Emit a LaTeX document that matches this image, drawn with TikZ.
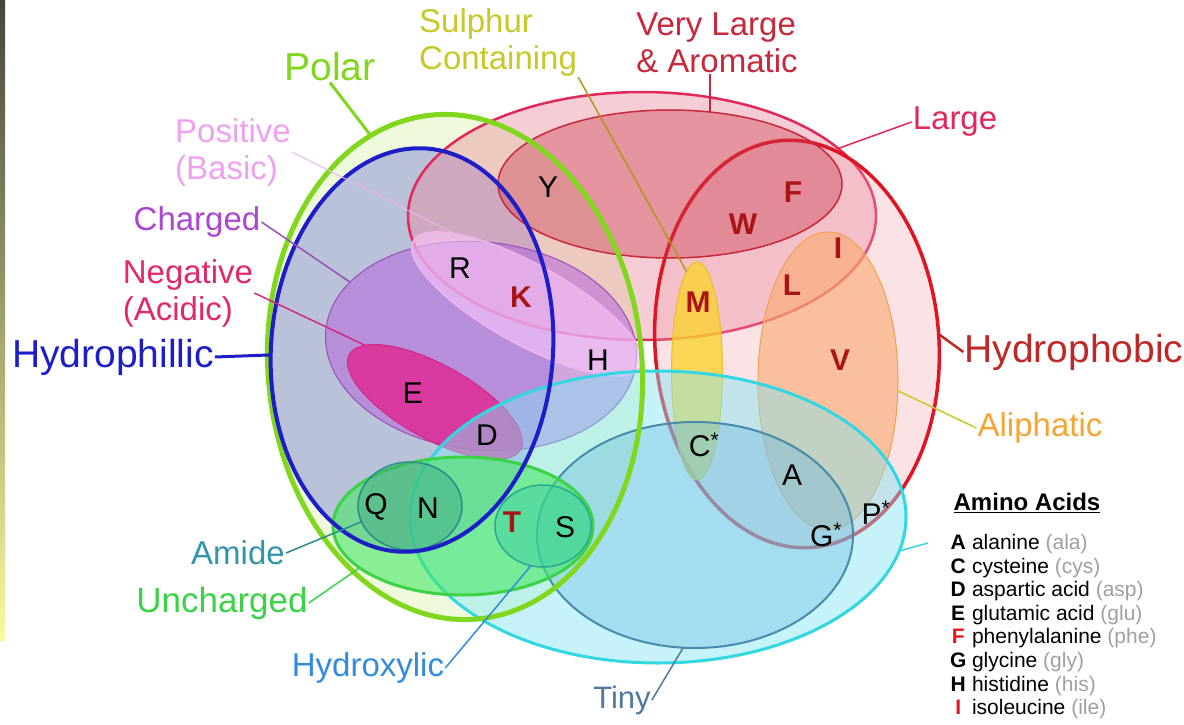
\documentclass[tikz,border=0pt]{standalone}
\usepackage{fontspec}
\setmainfont{Liberation Sans}
\usetikzlibrary{shapes.geometric}

\definecolor{polarc}{RGB}{128,215,30}
\definecolor{polarf}{RGB}{205,240,140}
\definecolor{philc}{RGB}{30,30,200}
\definecolor{philf}{RGB}{135,140,215}
\definecolor{largec}{RGB}{225,40,90}
\definecolor{largef}{RGB}{235,130,150}
\definecolor{phobc}{RGB}{225,20,35}
\definecolor{phobf}{RGB}{240,160,170}
\definecolor{phobt}{RGB}{190,40,40}
\definecolor{vlc}{RGB}{200,40,60}
\definecolor{vlf}{RGB}{200,60,80}
\definecolor{alic}{RGB}{240,160,80}
\definecolor{alif}{RGB}{250,170,110}
\definecolor{alit}{RGB}{245,165,50}
\definecolor{sulc}{RGB}{225,195,40}
\definecolor{sulf}{RGB}{250,210,40}
\definecolor{sult}{RGB}{200,200,40}
\definecolor{sull}{RGB}{180,150,30}
\definecolor{chgc}{RGB}{150,80,180}
\definecolor{chgf}{RGB}{180,100,220}
\definecolor{chgt}{RGB}{170,70,210}
\definecolor{posc}{RGB}{240,180,240}
\definecolor{posf}{RGB}{250,200,250}
\definecolor{post}{RGB}{240,160,240}
\definecolor{negc}{RGB}{210,40,130}
\definecolor{negf}{RGB}{230,30,140}
\definecolor{negt}{RGB}{225,40,110}
\definecolor{smallc}{RGB}{50,215,225}
\definecolor{smallf}{RGB}{130,230,245}
\definecolor{tinyc}{RGB}{70,140,170}
\definecolor{tinyf}{RGB}{100,180,220}
\definecolor{tinyt}{RGB}{80,120,160}
\definecolor{unchc}{RGB}{60,210,70}
\definecolor{unchf}{RGB}{70,230,100}
\definecolor{amidec}{RGB}{40,140,140}
\definecolor{amidef}{RGB}{50,150,130}
\definecolor{amidet}{RGB}{50,150,170}
\definecolor{hydc}{RGB}{40,170,140}
\definecolor{hydf}{RGB}{50,200,170}
\definecolor{hydt}{RGB}{50,140,220}
\definecolor{acidred}{RGB}{170,20,20}
\definecolor{leggray}{RGB}{160,160,160}
\definecolor{legred}{RGB}{230,20,30}

\tikzstyle{region} = [ellipse, inner sep=0pt, outer sep=0pt]
\tikzstyle{lbl} = [inner sep=1pt, align=left, font=\fontsize{33}{37}\selectfont]
\tikzstyle{biglbl} = [inner sep=1pt, font=\fontsize{39}{44}\selectfont]
\tikzstyle{conn} = [line width=1.5pt]
\tikzstyle{acid} = [inner sep=0pt, font=\fontsize{30}{30}\selectfont]
\tikzstyle{redacid} = [inner sep=0pt, text=acidred, font=\fontsize{30}{30}\selectfont\bfseries]

\begin{document}
\begin{tikzpicture}[x=1pt, y=-1pt]
    \useasboundingbox (0,0) rectangle (1184,725);
    \fill [white] (0,0) rectangle (1184,725);
    \shade [top color={rgb,255:red,70;green,70;blue,60}, bottom color={rgb,255:red,250;green,250;blue,160}] (0,0) rectangle (5,640);

    % sets
    \node (polar) [region, fill=polarf, fill opacity=0.3, minimum width=374pt, minimum height=506pt, rotate=5] at (455,367) {};
    \node (phil) [region, fill=philf, fill opacity=0.5, minimum width=282pt, minimum height=404pt, rotate=-4] at (412,350) {};
    \node (large) [region, draw=largec, line width=2.5pt, fill=largef, fill opacity=0.4, minimum width=468pt, minimum height=248pt] at (642,216) {};
    \node (phob) [region, draw=phobc, line width=3.5pt, fill=phobf, fill opacity=0.3, minimum width=284pt, minimum height=408pt, rotate=4] at (797,344) {};
    \node (vla) [region, draw=vlc, line width=1.5pt, fill=vlf, fill opacity=0.4, minimum width=344pt, minimum height=148pt] at (670,184) {};
    \node (ali) [region, draw=alic, line width=1pt, fill=alif, fill opacity=0.6, minimum width=140pt, minimum height=298pt] at (828,381) {};
    \node (chg) [region, draw=chgc, line width=1pt, fill=chgf, fill opacity=0.55, minimum width=312pt, minimum height=208pt, rotate=-6] at (481,346) {};
    \node (pos) [region, draw=posc, line width=1.5pt, fill=posf, fill opacity=0.6, minimum width=260pt, minimum height=80pt, rotate=-29] at (527,304) {};
    \node (neg) [region, draw=negc, line width=1pt, fill=negf, fill opacity=0.75, minimum width=196pt, minimum height=74pt, rotate=-29] at (435,402) {};
    \node (sulph) [region, draw=sulc, line width=1pt, fill=sulf, fill opacity=0.75, minimum width=51pt, minimum height=218pt] at (697,371) {};
    \node (small) [region, draw=smallc, line width=3pt, fill=smallf, fill opacity=0.45, minimum width=496pt, minimum height=292pt] at (658,517) {};
    \node (tiny) [region, draw=tinyc, line width=2pt, fill=tinyf, fill opacity=0.35, minimum width=316pt, minimum height=226pt] at (695,535) {};
    \node (unch) [region, draw=unchc, line width=3pt, fill=unchf, fill opacity=0.6, minimum width=260pt, minimum height=138pt] at (463,526) {};
    \node (amide) [region, draw=amidec, line width=1.5pt, fill=amidef, fill opacity=0.35, minimum width=104pt, minimum height=88pt] at (410,506) {};
    \node (hyd) [region, draw=hydc, line width=1.5pt, fill=hydf, fill opacity=0.4, minimum width=96pt, minimum height=82pt] at (543,526) {};
    % outlines of polar and hydrophillic sit on top
    \node (polarrim) [region, draw=polarc, line width=5pt, minimum width=374pt, minimum height=506pt, rotate=5] at (polar.center) {};
    \node (philrim) [region, draw=philc, line width=4pt, minimum width=282pt, minimum height=404pt, rotate=-4] at (phil.center) {};

    % labels
    \node (polarlbl) [biglbl, text=polarc] at (330,67) {Polar};
    \node (sullbl) [lbl, text=sult, anchor=west] at (418,42) {Sulphur\\Containing};
    \node (vlalbl) [lbl, text=vlc] at (717,43) {Very Large\\\& Aromatic};
    \node (largelbl) [lbl, text=largec] at (955,122) {Large};
    \node (poslbl) [lbl, text=post] at (233,152) {Positive\\(Basic)};
    \node (chglbl) [lbl, text=chgt] at (197,222) {Charged};
    \node (neglbl) [lbl, text=negt] at (188,293) {Negative\\(Acidic)};
    \node (phillbl) [biglbl, text=philc] at (113,357) {Hydrophillic};
    \node (phoblbl) [biglbl, text=phobt] at (1074,352) {Hydrophobic};
    \node (alilbl) [lbl, text=alit] at (1040,428) {Aliphatic};
    \node (amidelbl) [lbl, text=amidet] at (238,553) {Amide};
    \node (unchlbl) [lbl, text=unchc, font=\fontsize{35}{40}\selectfont] at (222,603) {Uncharged};
    \node (hydlbl) [lbl, text=hydt] at (368,668) {Hydroxylic};
    \node (tinylbl) [lbl, text=tinyt, font=\fontsize{31}{36}\selectfont] at (622,700) {Tiny};
    \coordinate (smallend) at (928,543);

    % label lines
    \draw [conn, polarc, line width=3pt] (polarlbl.south) -- (polarrim.105);
    \draw [conn, sull] (sullbl.south east) -- (sulph.96);
    \draw [conn, vlc] (vla.61) -- (vla.61 |- vlalbl.south);
    \draw [conn, largec] (largelbl.west) -- (large.19);
    \draw [conn, posc, line width=1pt] (poslbl.east) -- (pos.165);
    \draw [conn, chgc] (chglbl.east) -- (chg.160);
    \draw [conn, negc] (neglbl.east) -- (neg.170);
    \draw [conn, philc, line width=3pt] (phillbl.east) -- (philrim.186);
    \draw [conn, phobt, line width=2.5pt] (phob.0) -- (phoblbl.west);
    \draw [conn, sult] (ali.-8) -- (alilbl.west);
    \draw [conn, amidec] (amidelbl.east) -- (amide.198);
    \draw [conn, unchc] (unchlbl.east) -- (unch.202);
    \draw [conn, hydt] (hydlbl.east) -- (hyd.253);
    \draw [conn, tinyt] (tinylbl.east) -- (tiny.264);
    \draw [conn, smallc] (small.-8) -- (smallend);

    % amino acids
    \node (Y) [acid] at (548,187) {Y};
    \node (W) [redacid] at (743,224) {W};
    \node (F) [redacid] at (793,192) {F};
    \node (R) [acid] at (460,268) {R};
    \node (K) [redacid] at (521,297) {K};
    \node (M) [redacid] at (698,302) {M};
    \node (L) [redacid] at (792,285) {L};
    \node (I) [redacid] at (838,248) {I};
    \node (V) [redacid] at (840,360) {V};
    \node (H) [acid] at (598,360) {H};
    \node (E) [acid] at (413,393) {E};
    \node (D) [acid] at (487,435) {D};
    \node (C) [acid] at (704,445) {C\textsuperscript{*}};
    \node (A) [acid] at (792,475) {A};
    \node (G) [acid] at (826,535) {G\textsuperscript{*}};
    \node (P) [acid] at (876,513) {P\textsuperscript{*}};
    \node (Q) [acid] at (376,507) {Q};
    \node (N) [acid] at (428,508) {N};
    \node (T) [redacid] at (512,522) {T};
    \node (S) [acid] at (565,527) {S};

    % legend
    \node (legtitle) [font=\fontsize{24}{28}\selectfont\bfseries] at (1027,503) {\underline{Amino Acids}};
    \node (legend) [anchor=north west, align=left, inner sep=0pt, font=\fontsize{21}{23.6}\selectfont] at (950,534) {%
        \makebox[16pt][c]{\bfseries A} alanine \textcolor{leggray}{(ala)}\\
        \makebox[16pt][c]{\bfseries C} cysteine \textcolor{leggray}{(cys)}\\
        \makebox[16pt][c]{\bfseries D} aspartic acid \textcolor{leggray}{(asp)}\\
        \makebox[16pt][c]{\bfseries E} glutamic acid \textcolor{leggray}{(glu)}\\
        \makebox[16pt][c]{\bfseries\color{legred}F} phenylalanine \textcolor{leggray}{(phe)}\\
        \makebox[16pt][c]{\bfseries G} glycine \textcolor{leggray}{(gly)}\\
        \makebox[16pt][c]{\bfseries H} histidine \textcolor{leggray}{(his)}\\
        \makebox[16pt][c]{\bfseries\color{legred}I} isoleucine \textcolor{leggray}{(ile)}};
\end{tikzpicture}
\end{document}
